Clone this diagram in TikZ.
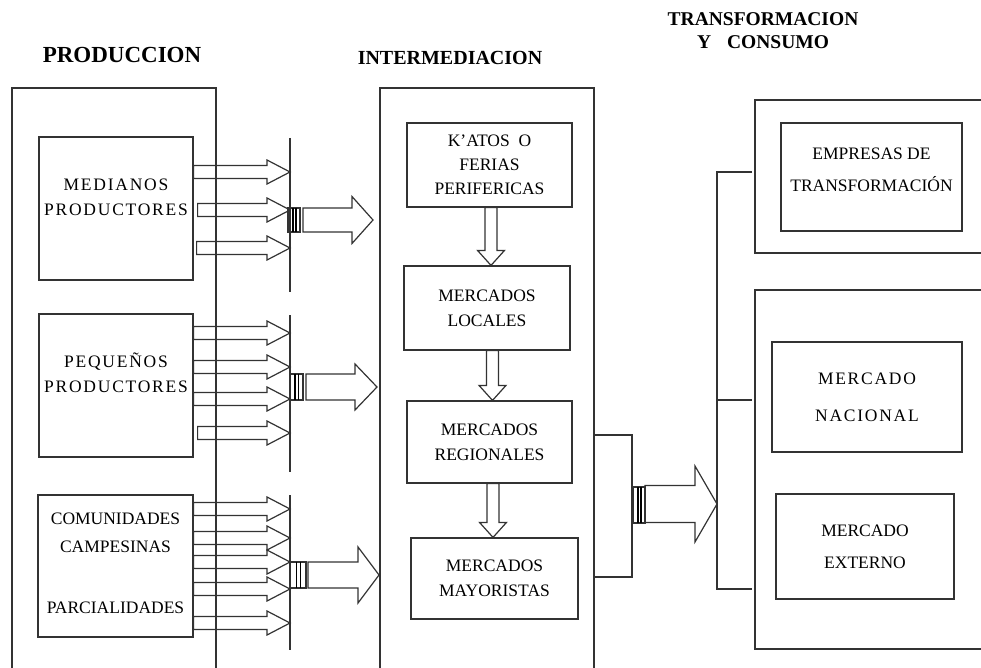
\documentclass[tikz,border=0pt]{standalone}
\usepackage{fontspec}
\setmainfont{Liberation Serif}
\newfontfamily\widefont{Liberation Serif}[LetterSpace=10]
\usetikzlibrary{calc}

\tikzset{
  frame/.style={draw=black!80, line width=1.2pt},
  box/.style={frame, inner sep=0pt, align=center, font=\fontsize{17.5}{25}\selectfont},
  txt/.style={inner sep=0pt, align=center, font=\fontsize{17.5}{25}\selectfont},
  wide/.style={font=\widefont\fontsize{17.5}{25}\selectfont},
  heading/.style={inner sep=0pt, align=center, font=\bfseries\fontsize{20}{23}\selectfont},
}

% block arrow: x of #1, tip at #2, shaft half #3, head half #4, head length #5
\newcommand\harrow[5]{%
  \draw[frame] let \p1=(#1), \p2=(#2) in
    (\x1,\y2+#3) -- (\x2-#5,\y2+#3) -- (\x2-#5,\y2+#4) -- (\x2,\y2)
    -- (\x2-#5,\y2-#4) -- (\x2-#5,\y2-#3) -- (\x1,\y2-#3) -- cycle;}
% down arrow from node #2 to node #3, shifted by #1
\newcommand\varrow[3][0pt]{%
  \draw[frame] let \p1=(#2.south), \p2=(#3.north) in
    (\x1+#1-6pt,\y1) -- (\x1+#1-6pt,\y2+15pt) -- (\x1+#1-13.5pt,\y2+15pt) -- (\x1+#1,\y2)
    -- (\x1+#1+13.5pt,\y2+15pt) -- (\x1+#1+6pt,\y2+15pt) -- (\x1+#1+6pt,\y1) -- cycle;}
% striped block in front of a big arrow
\newcommand\stripes[4]{%
  \draw[frame] (#1,#3-#4) rectangle (#2,#3+#4);
  \foreach \k in {0.4,0.65}
    \draw[line width=1.5pt] ({#1+\k*(#2-#1)},#3-#4) -- ({#1+\k*(#2-#1)},#3+#4);}

\begin{document}
\begin{tikzpicture}[x=1pt,y=-1pt]
\useasboundingbox (0,0) rectangle (981,668);
\clip (0,0) rectangle (981,668);

% headings
\node[heading, font=\bfseries\fontsize{23}{26}\selectfont] (prod) at (122,55) {PRODUCCION};
\node[heading] (inter) at (450,57.5) {INTERMEDIACION};
\node[heading, font=\bfseries\fontsize{19.5}{23}\selectfont] (trans) at (763,31) {TRANSFORMACION\\Y\hspace{16pt}CONSUMO};

% frames
\draw[frame] (12,700) -- (12,88) -- (216,88) -- (216,700);
\draw[frame] (380,700) -- (380,88) -- (594,88) -- (594,700);
\draw[frame] (990,100) -- (755,100) -- (755,253) -- (990,253);
\draw[frame] (990,290) -- (755,290) -- (755,649) -- (990,649);

% produccion
\node[box, minimum width=154pt, minimum height=143pt] (med) at (116,208.5) {};
\node[box, minimum width=154pt, minimum height=143pt] (peq) at (116,385.5) {};
\node[box, minimum width=155pt, minimum height=142pt] (com) at (115.5,566) {};
\node[txt, wide] at ([yshift=11pt]med.center) {MEDIANOS\\PRODUCTORES};
\node[txt, wide] at ([yshift=13pt]peq.center) {PEQUEÑOS\\PRODUCTORES};
\node[txt, font=\fontsize{17.5}{28}\selectfont] at ([yshift=3pt]com.center) {COMUNIDADES\\CAMPESINAS\\[33pt]PARCIALIDADES};

\foreach \yy/\dd in {172/0,210/4,248/3}
  \harrow{[xshift=\dd pt]med.east}{290,\yy}{6.5pt}{12pt}{23pt};
\foreach \yy/\dd in {333/0,367/0,399/0,433/4}
  \harrow{[xshift=\dd pt]peq.east}{290,\yy}{6.5pt}{12pt}{23pt};
\foreach \yy in {509,538,562,589,623}
  \harrow{com.east}{290,\yy}{6.5pt}{12pt}{23pt};

\draw[frame] (290,138) -- (290,292);
\draw[frame] (290,315) -- (290,472);
\draw[frame] (290,495) -- (290,650);

\stripes{288}{300}{220}{12}
\harrow{303,0}{373,220}{12pt}{23.5pt}{21pt}
\stripes{290}{303}{387}{13}
\harrow{306,0}{377,387}{13pt}{23pt}{22pt}
\stripes{290}{306}{575}{13}
\harrow{308,0}{379,575}{13pt}{28pt}{21pt}

% intermediacion
\node[box, minimum width=165pt, minimum height=84pt] (katos) at (489.5,165) {K’ATOS~~O\\[-1pt]FERIAS\\[-1pt]PERIFERICAS};
\node[box, minimum width=166pt, minimum height=84pt] (loc) at (487,308) {MERCADOS\\LOCALES};
\node[box, minimum width=165pt, minimum height=82pt] (reg) at (489.5,442) {MERCADOS\\REGIONALES};
\node[box, minimum width=167pt, minimum height=81pt] (may) at (494.5,578.5) {MERCADOS\\MAYORISTAS};
\varrow[1.5pt]{katos}{loc}
\varrow[5.5pt]{loc}{reg}
\varrow[3.5pt]{reg}{may}

\draw[frame] (594,435) -- (632,435) -- (632,577) -- (594,577);
\stripes{633}{645}{505}{18}
\harrow{645,0}{717,504}{18.5pt}{38pt}{22pt}

% transformacion y consumo
\draw[frame] (752,172) -- (717,172) -- (717,589) -- (752,589);
\draw[frame] (717,400) -- (752,400);
\node[box, minimum width=181pt, minimum height=108pt] (emp) at (871.5,177) {};
\node[txt] at ([yshift=7pt]emp.center) {EMPRESAS DE\\[7pt]TRANSFORMACIÓN};
\node[box, minimum width=190pt, minimum height=110pt, wide] (nac) at (867,397) {MERCADO\\[12pt]NACIONAL};
\node[box, minimum width=178pt, minimum height=105pt] (ext) at (865,546.5) {MERCADO\\[7pt]EXTERNO};
\end{tikzpicture}
\end{document}
